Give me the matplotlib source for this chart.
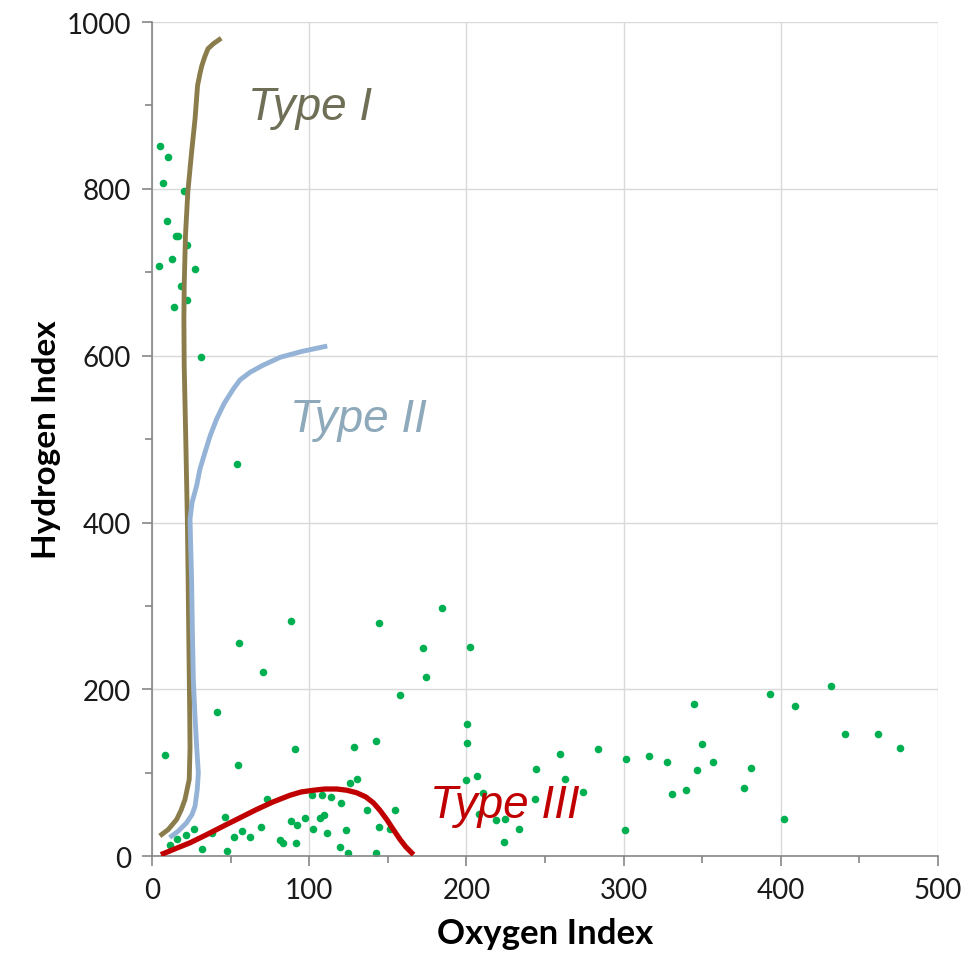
import matplotlib.pyplot as plt
from matplotlib.ticker import MultipleLocator

# sample points (Oxygen Index, Hydrogen Index)
oi = [5.1, 10.4, 7.2, 20.5, 9.4, 15.3, 16.3, 22, 12.9, 4.6, 27.4, 18.4, 22, 14, 31.2,
      53.9, 8.3, 55.3, 88.4, 70.4, 41.3, 144.2, 172.6, 174.3, 157.5, 91, 54.7, 142.5,
      128.7, 126.2, 130.6, 73, 101.6, 108, 113.7, 120.2, 136.6, 154.6, 46.6, 88.2, 92.4,
      97.3, 106.9, 109.4, 102.4, 144.2, 151.4, 123.4, 111.5, 69.5, 57.5, 62.3, 52, 38,
      26.9, 21.6, 15.9, 11.2, 32, 47.5, 81.4, 83.5, 91.4, 119.6, 124.7, 142.5,
      184.7, 202.5, 200.6, 200.6, 199.5, 206.5, 210.6, 208, 218.8, 224.3, 233.7, 223.7,
      243.6, 244.5, 259.7, 262.9, 274, 283.9, 301.7, 316, 327.8, 330.8, 300.7,
      339.9, 344.6, 349.7, 346.7, 356.7, 380.8, 376.8, 392.9, 401.8, 408.8, 431.9,
      441, 462, 476]
hi = [852, 838, 807, 797, 761, 743, 744, 733, 716, 707, 704, 683, 667, 659, 599,
      470, 121, 255, 282, 221, 173, 279, 250, 215, 193, 128, 109, 138,
      131, 88, 93, 69, 73, 73, 71, 64, 55, 55, 47, 42, 37,
      46, 46, 49, 33, 35, 33, 31, 28, 35, 30, 23, 23, 28,
      33, 25, 21, 13, 9, 6, 19, 16, 16, 11, 4, 4,
      298, 251, 158, 136, 91, 96, 76, 50, 43, 45, 33, 17,
      69, 105, 122, 93, 77, 129, 116, 120, 113, 74, 31,
      79, 182, 134, 103, 113, 106, 82, 194, 45, 180, 204,
      147, 147, 130]

# kerogen type curves
type1_x = [6.2, 10.4, 15.7, 18.5, 21, 23.7, 24.2, 24, 23.5, 23, 22.5, 21.5, 20.5, 20.3,
           20.5, 21.3, 22.8, 25.2, 27.4, 29, 30.5, 31.6, 33.5, 35.6, 39, 42.8]
type1_y = [26, 32, 44, 55, 68, 92, 130, 172, 250, 332, 404, 500, 588, 644,
           684, 744, 796, 844, 884, 924, 938, 947, 958, 968, 974, 979]
type2_x = [12.5, 16.7, 22, 25.5, 27.4, 28.8, 29.5, 28.8, 28.4, 27.3, 26.3, 25.7, 25.2,
           24.5, 24.2, 25.5, 28.4, 30.5, 33.7, 37, 41.1, 46, 51.7, 56, 62.3, 70, 81.4, 95, 110]
type2_y = [24, 30, 40, 50, 60, 80, 100, 120, 132, 170, 212, 270, 332,
           380, 404, 424, 444, 464, 484, 504, 524, 543, 560, 571, 580, 588, 598, 605, 611]
type3_x = [7.2, 15, 24.2, 35, 45.4, 56, 66.6, 77, 87.8, 95, 102.6, 110, 117.5, 124,
           130.2, 136, 140.8, 145, 149.3, 153.5, 157.8, 161.5, 165.2]
type3_y = [3, 9, 16, 26, 36, 46, 56, 65, 73, 77, 79, 80.5, 80.5, 79,
           76, 71, 64, 55, 44, 32, 20, 11, 4]

fig = plt.figure(figsize=(9.68, 9.62), dpi=100)
ax = fig.add_axes([0.157, 0.109, 0.812, 0.867])

ax.scatter(oi, hi, s=30, color='#00B050', zorder=2, linewidths=0)
ax.plot(type1_x, type1_y, color='#8B7D4B', lw=3.5, zorder=3, solid_joinstyle='round')
ax.plot(type2_x, type2_y, color='#95B3D7', lw=3.5, zorder=3, solid_joinstyle='round')
ax.plot(type3_x, type3_y, color='#C00000', lw=3.8, zorder=4, solid_joinstyle='round')

ax.text(61, 898, 'Type I', fontsize=33, style='italic', color='#6F6F57',
        family='Liberation Sans', va='center', ha='left')
ax.text(87.8, 524, 'Type II', fontsize=33, style='italic', color='#8EA9BA',
        family='Liberation Sans', va='center', ha='left')
ax.text(177, 61, 'Type III', fontsize=33, style='italic', color='#C00000',
        family='Liberation Sans', va='center', ha='left')

ax.set_xlim(0, 500)
ax.set_ylim(0, 1000)
ax.xaxis.set_major_locator(MultipleLocator(100))
ax.xaxis.set_minor_locator(MultipleLocator(50))
ax.yaxis.set_major_locator(MultipleLocator(200))
ax.yaxis.set_minor_locator(MultipleLocator(100))
ax.grid(True, which='major', color='#D9D9D9', lw=1)
ax.set_axisbelow(True)
for s in ['top', 'right']:
    ax.spines[s].set_visible(False)
for s in ['left', 'bottom']:
    ax.spines[s].set_color('#868686')
    ax.spines[s].set_linewidth(1.2)
ax.tick_params(which='both', direction='out', color='#868686', width=1.2)
ax.tick_params(which='major', length=7, labelsize=20, labelcolor='#1a1a1a', pad=8)
ax.tick_params(which='minor', length=5)
for lab in ax.get_xticklabels() + ax.get_yticklabels():
    lab.set_family('Lato')

ax.set_xlabel('Oxygen Index', fontsize=25, fontweight='bold', family='Lato', labelpad=10)
ax.set_ylabel('Hydrogen Index', fontsize=24, fontweight='bold', family='Lato', labelpad=4)

fig.savefig('out.png', dpi=100)
